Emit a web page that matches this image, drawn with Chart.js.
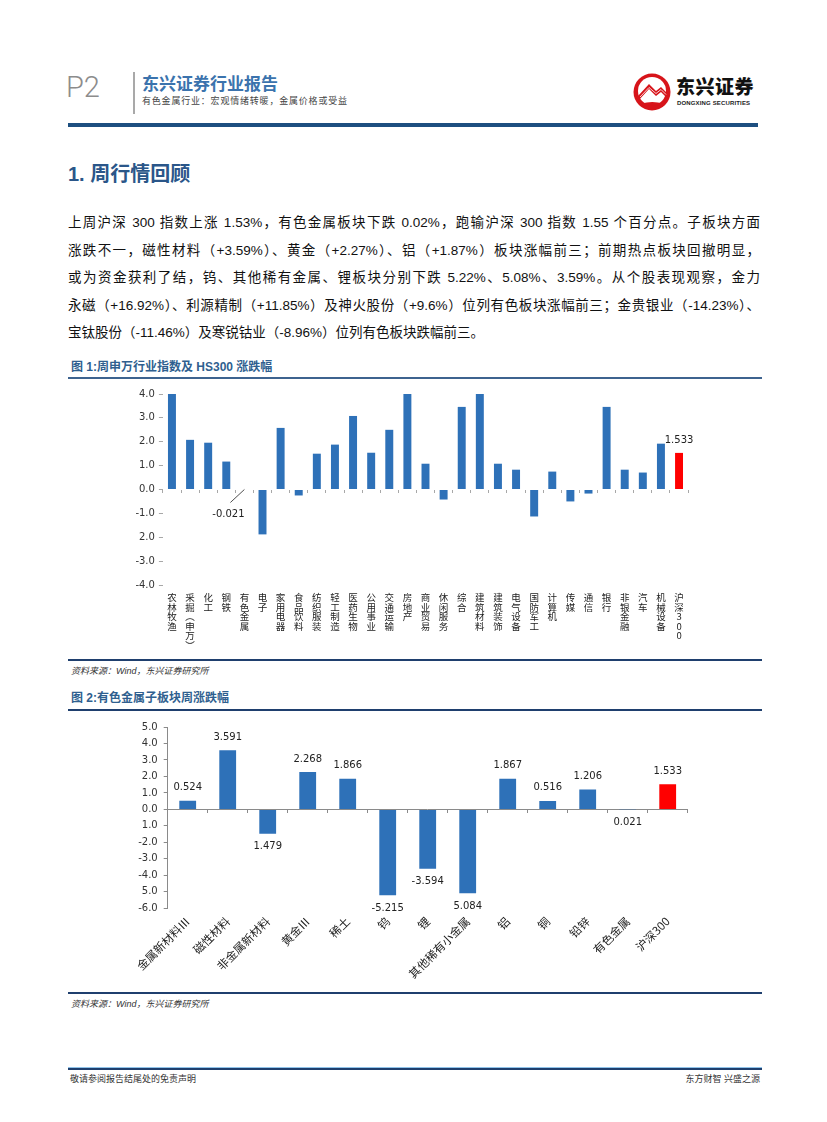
<!DOCTYPE html>
<html lang="zh-CN">
<head>
<meta charset="utf-8">
<title>有色金属行业 P2</title>
<script src="https://cdn.jsdelivr.net/npm/chart.js@4.4.1/dist/chart.umd.min.js"></script>
<style>
  html, body { margin: 0; padding: 0; background: #fff; }
  body { width: 827px; height: 1122px; position: relative; overflow: hidden;
         font-family: "Liberation Sans", "Noto Sans CJK SC", sans-serif; color: #111; }
  .abs { position: absolute; white-space: nowrap; }
  .page-no { left: 66px; top: 70px; font: 300 29px Roboto, "Liberation Sans", sans-serif; color: #8c8c8c; line-height: 34px; }
  .vbar { left: 133px; top: 72px; width: 2px; height: 42px; background: #a9a9a9; }
  .brand { left: 142px; top: 75px; font-weight: 700; font-size: 17px; line-height: 20px; color: #3b73ad; }
  .sub { left: 142px; top: 96px; font-size: 9px; line-height: 10px; color: #444; letter-spacing: 0.8px; }
  .logo-cn { left: 676px; top: 77px; font-weight: 900; font-size: 19px; line-height: 22px; color: #111; letter-spacing: 0.5px; }
  .logo-en { left: 677px; top: 100px; font-weight: 700; font-size: 6px; line-height: 7px; color: #222; letter-spacing: 0.15px; }
  .topline { left: 68px; top: 123px; width: 690px; height: 4px; background: #1d4f80; }
  .h1 { left: 68px; top: 162px; font-weight: 700; font-size: 20px; line-height: 24px; color: #2a5689; }
  .para { left: 68px; width: 692px; font-size: 13.5px; line-height: 20px; color: #111;
          text-align: justify; text-align-last: justify; }
  .para.last { text-align-last: left; }
  .fig-title { left: 71px; font-weight: 700; font-size: 12px; line-height: 14px; color: #2f5f8f; }
  .rule { left: 68px; width: 694px; height: 2px; background: #3d638f; }
  .rule.dark { background: #1f3f6e; }
  .source { left: 71px; font-style: italic; font-size: 9px; line-height: 11px; color: #333; }
  .footline { left: 68px; top: 1067px; width: 694px; height: 2px; background: #1f3f6e; border-top: 1px solid #8fc3ea; }
  .foot { top: 1074px; font-size: 9px; line-height: 11px; color: #333; }
  canvas { position: absolute; }
</style>
</head>
<body>

<div class="abs page-no">P2</div>
<div class="abs vbar"></div>
<div class="abs brand">东兴证券行业报告</div>
<div class="abs sub">有色金属行业：宏观情绪转暖，金属价格或受益</div>

<svg class="abs" style="left:632px;top:72px" width="40" height="40" viewBox="0 0 40 40">
  <circle cx="20" cy="20" r="18.5" fill="#d7141a"/>
  <circle cx="20" cy="19" r="14" fill="#fff"/>
  <path d="M6 24 L17 12 L24 19 L29 15 L35 21 L35 26 L29 20 L24 24 L17 17 L6 29 Z" fill="#d7141a"/>
  <path d="M8 25 L17 15.5 L24 21.5 L29 17.5 L34 22.5" stroke="#fff" stroke-width="0.8" fill="none"/>
  <path d="M10 33 Q20 30 31 33" stroke="#d7141a" stroke-width="3" fill="none"/>
</svg>
<div class="abs logo-cn">东兴证券</div>
<div class="abs logo-en">DONGXING SECURITIES</div>
<div class="abs topline"></div>

<div class="abs h1">1. 周行情回顾</div>

<div class="abs para" style="top:213px">上周沪深 300 指数上涨 1.53%，有色金属板块下跌 0.02%，跑输沪深 300 指数 1.55 个百分点。子板块方面</div>
<div class="abs para" style="top:240.5px">涨跌不一，磁性材料（+3.59%）、黄金（+2.27%）、铝（+1.87%）板块涨幅前三；前期热点板块回撤明显，</div>
<div class="abs para" style="top:268px">或为资金获利了结，钨、其他稀有金属、锂板块分别下跌 5.22%、5.08%、3.59%。从个股表现观察，金力</div>
<div class="abs para" style="top:295.5px">永磁（+16.92%）、利源精制（+11.85%）及神火股份（+9.6%）位列有色板块涨幅前三；金贵银业（-14.23%）、</div>
<div class="abs para last" style="top:323px">宝钛股份（-11.46%）及寒锐钴业（-8.96%）位列有色板块跌幅前三。</div>

<div class="abs fig-title" style="top:360px">图 1:周申万行业指数及 HS300 涨跌幅</div>
<div class="abs rule" style="top:377px"></div>
<canvas id="industryChart" width="700" height="276" style="left:60px;top:384px"></canvas>
<div class="abs rule dark" style="top:659px"></div>
<div class="abs source" style="top:666px">资料来源：Wind，东兴证券研究所</div>

<div class="abs fig-title" style="top:691px">图 2:有色金属子板块周涨跌幅</div>
<div class="abs rule dark" style="top:709px"></div>
<canvas id="subsectorChart" width="700" height="275" style="left:60px;top:715px"></canvas>
<div class="abs rule dark" style="top:992px"></div>
<div class="abs source" style="top:999px">资料来源：Wind，东兴证券研究所</div>

<div class="abs footline"></div>
<div class="abs foot" style="left:70px">敬请参阅报告结尾处的免责声明</div>
<div class="abs foot" style="right:67px">东方财智 兴盛之源</div>

<script>
// 图1：申万行业 + 沪深300 周涨跌幅（%）
const industryLabels = ['农林牧渔', '采掘(申万)', '化工', '钢铁', '有色金属', '电子', '家用电器', '食品饮料',
    '纺织服装', '轻工制造', '医药生物', '公用事业', '交通运输', '房地产', '商业贸易', '休闲服务', '综合',
    '建筑材料', '建筑装饰', '电气设备', '国防军工', '计算机', '传媒', '通信', '银行', '非银金融', '汽车',
    '机械设备', '沪深300'];
const industryChange = [4.0, 2.08, 1.96, 1.17, -0.021, -1.88, 2.58, -0.25,
    1.5, 1.88, 3.08, 1.54, 2.5, 4.0, 1.08, -0.42, 3.46,
    4.0, 1.08, 0.83, -1.13, 0.75, -0.5, -0.17, 3.46, 0.83, 0.71,
    1.92, 1.533];
const industryValueText = [null, null, null, null, '-0.021', null, null, null,
    null, null, null, null, null, null, null, null, null,
    null, null, null, null, null, null, null, null, null, null,
    null, '1.533'];
// tick labels from bottom (-4) to top (4), as printed
const industryTicks = ['-4.0', '-3.0', '2.0', '-1.0', '0.0', '1.0', '2.0', '3.0', '4.0'];

// 图2：有色金属子板块周涨跌幅（%）
const subsectorLabels = ['金属新材料Ⅲ', '磁性材料', '非金属新材料', '黄金Ⅲ', '稀土', '钨', '锂',
    '其他稀有小金属', '铝', '铜', '铅锌', '有色金属', '沪深300'];
const subsectorChange = [0.524, 3.591, -1.479, 2.268, 1.866, -5.215, -3.594,
    -5.084, 1.867, 0.516, 1.206, -0.021, 1.533];
const subsectorValueText = ['0.524', '3.591', '1.479', '2.268', '1.866', '-5.215', '-3.594',
    '5.084', '1.867', '0.516', '1.206', '0.021', '1.533'];
// tick labels from bottom (-6) to top (5), as printed
const subsectorTicks = ['-6.0', '5.0', '-4.0', '-3.0', '-2.0', '1.0', '0.0', '1.0', '2.0', '3.0', '4.0', '5.0'];

const BLUE = '#2e71b8';
const RED = '#ff0000';
const AXIS = '#8a8a8a';
const NUM_FONT = '"DejaVu Sans", "Noto Sans CJK SC", sans-serif';
const CJK_FONT = '"Noto Sans CJK SC", "DejaVu Sans", sans-serif';

function barColors(values) {
    return values.map((v, i) => (i === values.length - 1 ? RED : BLUE));
}

// stacked vertical label, brackets swapped for their vertical forms
function verticalLabel(name) {
    return Array.from(name).map(ch => (ch === '(' ? '︵' : ch === ')' ? '︶' : ch));
}

const valueLabels = {
    id: 'valueLabels',
    afterDatasetsDraw(chart, args, opts) {
        const texts = opts.texts || [];
        const meta = chart.getDatasetMeta(0);
        const values = chart.data.datasets[0].data;
        const zeroY = chart.scales.y.getPixelForValue(0);
        const ctx = chart.ctx;

        ctx.save();
        ctx.font = opts.font;
        ctx.fillStyle = opts.color;
        ctx.strokeStyle = opts.color;
        ctx.textAlign = 'center';
        ctx.textBaseline = 'middle';

        texts.forEach((text, i) => {
            if (!text) {
                return;
            }
            const bar = meta.data[i];
            const callout = (opts.callouts || {})[i];
            if (callout) {
                ctx.lineWidth = 0.8;
                ctx.beginPath();
                ctx.moveTo(bar.x, zeroY);
                ctx.lineTo(bar.x + callout.lineX, zeroY + callout.lineY);
                ctx.stroke();
                ctx.fillText(text, bar.x + callout.dx, zeroY + callout.dy);
                return;
            }
            const y = values[i] >= 0 ? bar.y - opts.gap : bar.y + opts.gap;
            ctx.fillText(text, bar.x, y);
        });
        ctx.restore();
    },
};

new Chart(document.getElementById('industryChart'), {
    type: 'bar',
    data: {
        labels: industryLabels.map(verticalLabel),
        datasets: [{
            data: industryChange,
            backgroundColor: barColors(industryChange),
            barPercentage: 0.44,
            categoryPercentage: 1,
        }],
    },
    options: {
        responsive: false,
        animation: false,
        layout: { padding: { top: 10, right: 71.9, left: 0, bottom: 0 } },
        plugins: {
            legend: { display: false },
            tooltip: { enabled: false },
            valueLabels: {
                texts: industryValueText,
                font: '10px ' + NUM_FONT,
                color: '#222',
                gap: 12,
                callouts: { 4: { lineX: -14, lineY: 13, dx: -16, dy: 25 } },
            },
        },
        scales: {
            x: {
                grid: { display: false, drawTicks: false },
                border: { display: false },
                ticks: {
                    autoSkip: false,
                    maxRotation: 0,
                    minRotation: 0,
                    padding: 8,
                    color: '#222',
                    font: { family: CJK_FONT, size: 9.5, lineHeight: 1.0 },
                },
                afterFit: s => { s.height = 75; },
            },
            x0: {
                type: 'category',
                position: { y: 0 },
                offset: true,
                grid: { offset: true, drawOnChartArea: false, tickLength: 3, color: '#a8a8a8' },
                border: { display: false },
                ticks: { display: false },
            },
            y: {
                min: -4,
                max: 4,
                ticks: {
                    stepSize: 1,
                    padding: 4,
                    color: '#333',
                    font: { family: NUM_FONT, size: 10 },
                    callback: (v, i) => industryTicks[i],
                },
                grid: { drawOnChartArea: false, tickLength: 4, color: '#a8a8a8' },
                border: { display: false },
                afterFit: s => { s.width = 102.9; },
            },
        },
    },
    plugins: [valueLabels],
});

new Chart(document.getElementById('subsectorChart'), {
    type: 'bar',
    data: {
        labels: subsectorLabels,
        datasets: [{
            data: subsectorChange,
            backgroundColor: barColors(subsectorChange),
            barPercentage: 0.42,
            categoryPercentage: 1,
        }],
    },
    options: {
        responsive: false,
        animation: false,
        layout: { padding: { top: 11.7, right: 72.3, left: 0, bottom: 0 } },
        plugins: {
            legend: { display: false },
            tooltip: { enabled: false },
            valueLabels: {
                texts: subsectorValueText,
                font: '10px ' + NUM_FONT,
                color: '#222',
                gap: 13,
            },
        },
        scales: {
            x: {
                grid: { display: false, drawTicks: false },
                border: { display: false },
                ticks: {
                    autoSkip: false,
                    maxRotation: 45,
                    minRotation: 45,
                    padding: 6,
                    color: '#222',
                    font: { family: CJK_FONT, size: 11.5 },
                },
                afterFit: s => { s.height = 81.7; },
            },
            x0: {
                type: 'category',
                position: { y: 0 },
                offset: true,
                grid: { offset: true, drawOnChartArea: false, tickLength: 3, color: AXIS },
                border: { display: true, color: AXIS, width: 1 },
                ticks: { display: false },
            },
            y: {
                min: -6,
                max: 5,
                ticks: {
                    stepSize: 1,
                    padding: 6,
                    color: '#333',
                    font: { family: NUM_FONT, size: 10 },
                    callback: (v, i) => subsectorTicks[i],
                },
                grid: { drawOnChartArea: false, tickLength: 4, color: AXIS },
                border: { display: true, color: AXIS, width: 1 },
                afterFit: s => { s.width = 107.7; },
            },
        },
    },
    plugins: [valueLabels],
});
</script>
</body>
</html>
